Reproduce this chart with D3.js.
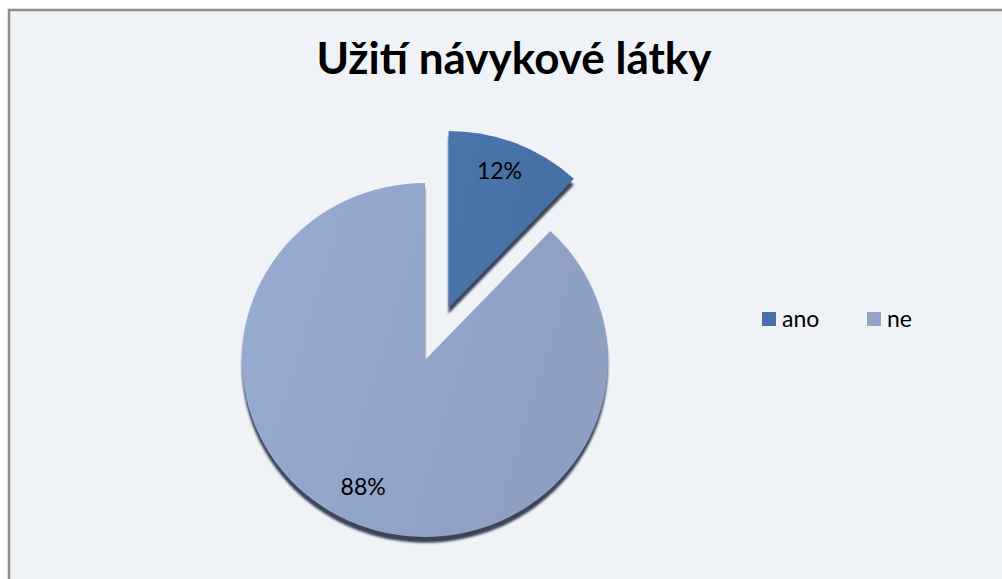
<!DOCTYPE html>
<html>
<head>
<meta charset="utf-8">
<script src="https://cdn.jsdelivr.net/npm/d3@7"></script>
<style>
  body { margin: 0; background: #fff; }
  svg { display: block; font-family: Lato, "Open Sans", sans-serif; }
</style>
</head>
<body>
<div id="chart"></div>
<script>
// data
const categories = ["ano", "ne"];
const values = [12, 88];
const labels = ["12%", "88%"];
const colors = ["#4771a7", "#91a5c8"];
const title = "Užití návykové látky";

const width = 1002, height = 579;

const svg = d3.select("#chart").append("svg")
    .attr("width", width)
    .attr("height", height);

const defs = svg.append("defs");
colors.forEach(function(c, i) {
    const g = defs.append("linearGradient")
        .attr("id", "grad" + i)
        .attr("x1", "0%").attr("y1", "0%")
        .attr("x2", "100%").attr("y2", "30%");
    g.append("stop").attr("offset", "0%").attr("stop-color", d3.color(c).brighter(0.12));
    g.append("stop").attr("offset", "100%").attr("stop-color", d3.color(c).darker(0.08));
});
const blur = defs.append("filter").attr("id", "soft");
blur.append("feGaussianBlur").attr("stdDeviation", 1);

// chart area
svg.append("rect")
    .attr("x", 9).attr("y", 10)
    .attr("width", width + 20).attr("height", height + 20)
    .attr("fill", "#eff3f8")
    .attr("stroke", "#8c8c8c")
    .attr("stroke-width", 2.5);

svg.append("text")
    .attr("x", 514)
    .attr("y", 74)
    .attr("text-anchor", "middle")
    .style("font-size", "44px")
    .style("font-weight", "bold")
    .attr("fill", "#000")
    .text(title);

// pie
const cx = 425, cy = 360, r = 183, ky = 0.967;

const pie = d3.pie().sort(null).value((d) => d);
const arcs = pie(values);
const arc = d3.arc().innerRadius(0).outerRadius(r);
const labelArc = d3.arc().innerRadius(r * 0.8).outerRadius(r * 0.8);

const pieG = svg.append("g")
    .attr("transform", "translate(" + cx + "," + cy + ") scale(1," + ky + ")");

// only the first slice is pulled out
function offset(d, i) {
    if (i !== 0) return [0, 0];
    const a = (d.startAngle + d.endAngle) / 2;
    return [64 * Math.sin(a), -58 * Math.cos(a)];
}

// shadow under slices
pieG.selectAll(".shadow")
    .data(arcs)
    .enter()
    .append("path")
    .attr("class", "shadow")
    .attr("d", arc)
    .attr("fill", "#3a4556")
    .attr("filter", "url(#soft)")
    .attr("transform", (d, i) => {
        const o = offset(d, i);
        return "translate(" + o[0] + "," + (o[1] + 6) + ")";
    });

pieG.selectAll(".slice")
    .data(arcs)
    .enter()
    .append("path")
    .attr("class", "slice")
    .attr("d", arc)
    .attr("fill", (d, i) => "url(#grad" + i + ")")
    .attr("transform", (d, i) => {
        const o = offset(d, i);
        return "translate(" + o[0] + "," + o[1] + ")";
    });

svg.selectAll(".pie-label")
    .data(arcs)
    .enter()
    .append("text")
    .attr("class", "pie-label")
    .attr("transform", (d, i) => {
        const o = offset(d, i);
        const c = labelArc.centroid(d);
        return "translate(" + (cx + c[0] + o[0] - (i ? 8 : 3)) + "," + (cy + (c[1] + o[1]) * ky - 5) + ")";
    })
    .attr("text-anchor", "middle")
    .attr("dy", "0.35em")
    .style("font-size", "23px")
    .attr("fill", "#000")
    .text((d, i) => labels[i]);

// legend
const legendX = d3.scalePoint().domain(categories).range([762, 867]);
const legend = svg.selectAll(".legend")
    .data(categories)
    .enter()
    .append("g")
    .attr("class", "legend")
    .attr("transform", (d) => "translate(" + legendX(d) + ",312)");

legend.append("rect")
    .attr("width", 14).attr("height", 14)
    .attr("fill", (d, i) => colors[i]);

legend.append("text")
    .attr("x", 20).attr("y", 7)
    .attr("dy", "0.35em")
    .style("font-size", "23px")
    .attr("fill", "#000")
    .text((d) => d);
</script>
</body>
</html>
